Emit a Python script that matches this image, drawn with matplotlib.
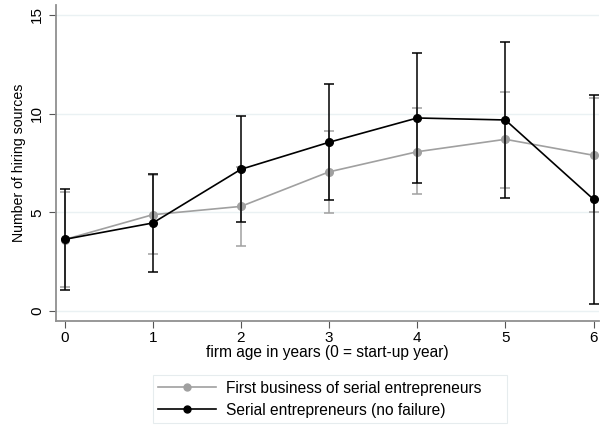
import matplotlib
matplotlib.use("Agg")
import matplotlib.pyplot as plt
from matplotlib.lines import Line2D

plt.rcParams['font.family'] = ['Liberation Sans', 'DejaVu Sans']

# firm age in years
ages = [0, 1, 2, 3, 4, 5, 6]

# first business of serial entrepreneurs (gray)
first_mean = [3.62, 4.88, 5.30, 7.05, 8.07, 8.70, 7.89]
first_low = [1.20, 2.87, 3.31, 4.95, 5.93, 6.25, 5.00]
first_high = [6.05, 6.89, 7.29, 9.12, 10.30, 11.11, 10.78]

# serial entrepreneurs, no failure (black)
serial_mean = [3.63, 4.46, 7.18, 8.55, 9.78, 9.68, 5.66]
serial_low = [1.06, 1.99, 4.53, 5.61, 6.50, 5.73, 0.35]
serial_high = [6.17, 6.96, 9.88, 11.50, 13.06, 13.62, 10.96]

labels = ['First business of serial entrepreneurs', 'Serial entrepreneurs (no failure)']

fig = plt.figure(figsize=(6, 4.25), dpi=100)
ax = fig.add_axes([0.093, 0.245, 0.905, 0.743])

for y in [0, 5, 10, 15]:
    ax.axhline(y, color='#eaf1f3', lw=1, zorder=0)

gray = '#a0a0a0'
err_g = [[m - l for m, l in zip(first_mean, first_low)],
         [h - m for m, h in zip(first_mean, first_high)]]
ax.errorbar(ages, first_mean, yerr=err_g, color=gray, ecolor=gray,
            marker='o', markersize=5.5, lw=1.2, elinewidth=1.1, capsize=3.5,
            capthick=1.1, zorder=2)

err_b = [[m - l for m, l in zip(serial_mean, serial_low)],
         [h - m for m, h in zip(serial_mean, serial_high)]]
ax.errorbar(ages, serial_mean, yerr=err_b, color='black', ecolor='black',
            marker='o', markersize=5.5, lw=1.2, elinewidth=1.1, capsize=3.5,
            capthick=1.1, zorder=3)

ax.set_xlim(-0.1, 6.06)
ax.set_ylim(-0.5, 15.5)
ax.set_xticks(ages)
ax.set_yticks([0, 5, 10, 15])
ax.set_yticklabels(['0', '5', '10', '15'], rotation=90, va='center')
ax.tick_params(labelsize=11, length=5, color='#555555', width=0.8)
ax.tick_params(axis='x', pad=2)

for s in ['top', 'right']:
    ax.spines[s].set_visible(False)
for s in ['left', 'bottom']:
    ax.spines[s].set_color('#909090')
    ax.spines[s].set_linewidth(1.3)

ax.set_xlabel('firm age in years (0 = start-up year)', fontsize=11.2, labelpad=0)
ax.set_ylabel('Number of hiring sources', fontsize=10.2, labelpad=3)

handles = [Line2D([], [], color=gray, marker='o', markersize=5, lw=1.2),
           Line2D([], [], color='black', marker='o', markersize=5, lw=1.2)]
leg = fig.legend(handles, labels, loc='lower left',
                 bbox_to_anchor=(153 / 600, 2 / 425, 354 / 600, 50 / 425),
                 mode='expand', fontsize=11.2, frameon=True, fancybox=False,
                 edgecolor='#e0e8ea', handlelength=3.7, borderpad=0.35,
                 labelspacing=0.45, handletextpad=0.65, borderaxespad=0)
leg.get_frame().set_linewidth(0.8)

fig.savefig('out.png', dpi=100)
